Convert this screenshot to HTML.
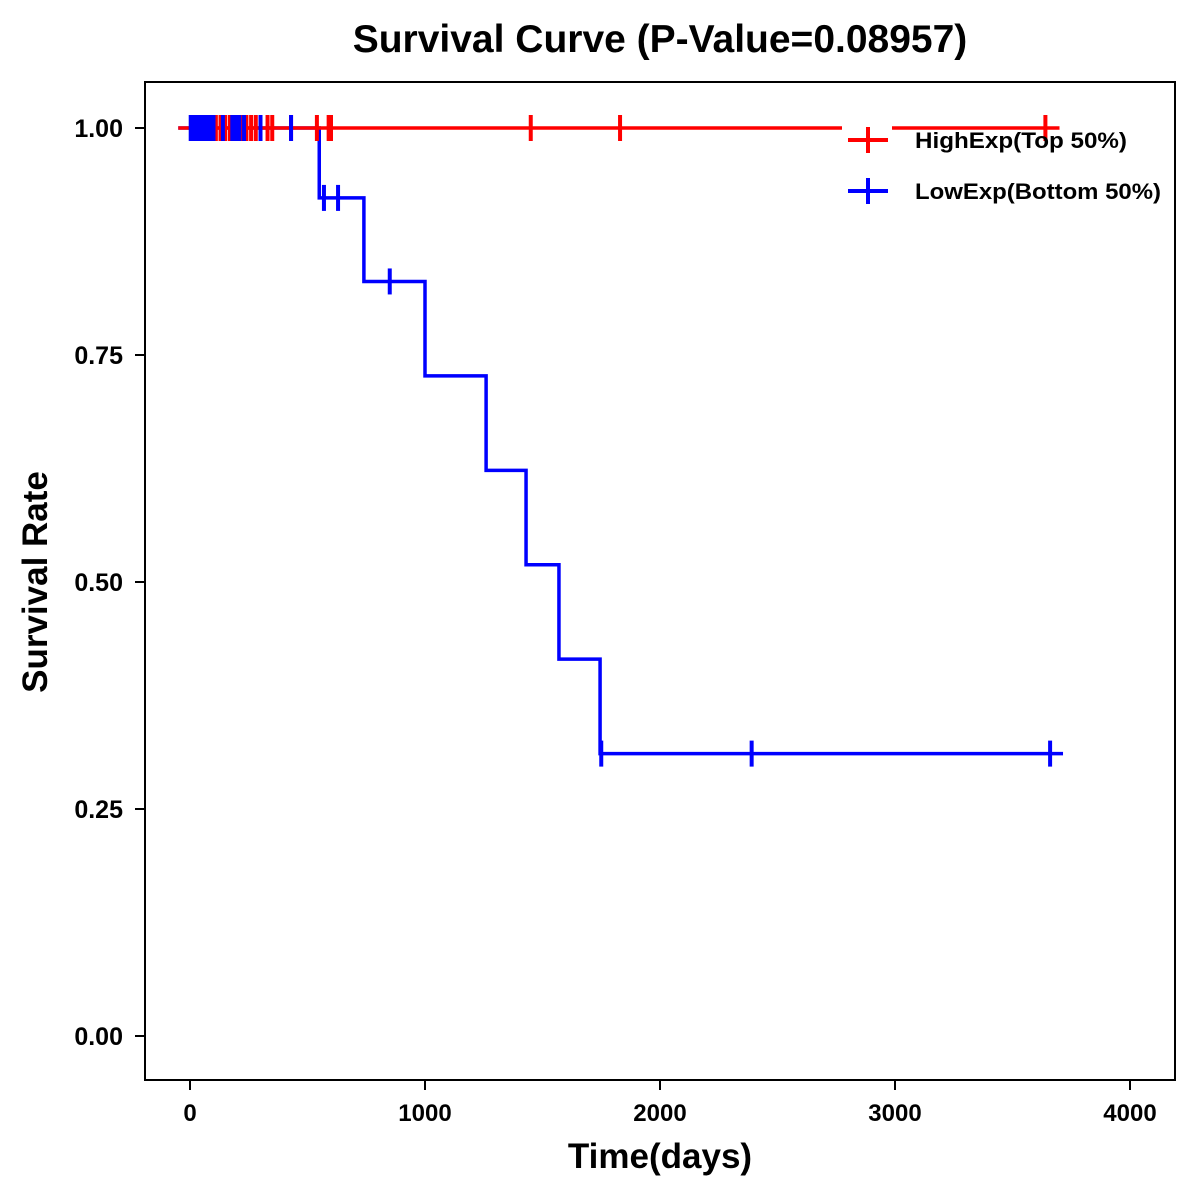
<!DOCTYPE html>
<html><head><meta charset="utf-8"><style>
body{margin:0;background:#fff}
svg{display:block;font-family:"Liberation Sans",Arial,sans-serif;font-weight:bold}
</style></head><body>
<svg id="chart" width="1200" height="1200">
<text x="660" y="52" text-anchor="middle" font-size="39">Survival Curve (P-Value=0.08957)</text>
<rect x="145" y="82" width="1030" height="998" fill="none" stroke="#000" stroke-width="2"/>
<g id="axes"></g>
<g id="series"></g>
<text x="660" y="1168" text-anchor="middle" font-size="35">Time(days)</text>
<text transform="translate(47,582) rotate(-90)" text-anchor="middle" font-size="35">Survival Rate</text>
<rect x="842" y="108" width="50" height="105" fill="#fff"/>
<g>
<line x1="848" y1="140" x2="888" y2="140" stroke="#f00" stroke-width="4"/>
<line x1="868" y1="127" x2="868" y2="153" stroke="#f00" stroke-width="4"/>
<text x="915" y="148" font-size="22" textLength="212" lengthAdjust="spacingAndGlyphs">HighExp(Top 50%)</text></g>
<g>
<line x1="848" y1="191" x2="888" y2="191" stroke="#00f" stroke-width="4"/>
<line x1="868" y1="178" x2="868" y2="204" stroke="#00f" stroke-width="4"/>
<text x="915" y="199" font-size="22" textLength="246" lengthAdjust="spacingAndGlyphs">LowExp(Bottom 50%)</text></g>
</svg>
<script>
const xTicks=[0,1000,2000,3000,4000];
const yTicks=[0,0.25,0.5,0.75,1];
const yTickLabels=["0.00","0.25","0.50","0.75","1.00"];
const highTimes=[-50,3700];
const highSurv=[1,1];
const highCensor=[5,15,25,35,50,60,75,95,110,130,150,170,200,220,240,260,280,300,330,350,430,540,590,600,1450,1830,3640];
const lowTimes=[-50,550,740,1000,1260,1430,1570,1745,3715];
const lowSurv=[1,0.923,0.831,0.727,0.623,0.519,0.415,0.311,0.311];
const lowCensor=[3,10,20,30,40,55,70,85,100,140,180,190,200,210,230,300,430,570,630,850,1750,2390,3660];
const lowCensorSurv=[1,1,1,1,1,1,1,1,1,1,1,1,1,1,1,1,1,0.923,0.923,0.831,0.311,0.311,0.311];
const X=t=>190+t*0.235, Y=s=>1036-s*908;
const NS="http://www.w3.org/2000/svg";
function mk(tag,attrs,parent){const e=document.createElementNS(NS,tag);for(const k in attrs)e.setAttribute(k,attrs[k]);parent.appendChild(e);return e;}
const ax=document.getElementById('axes'), se=document.getElementById('series');
xTicks.forEach(t=>{
 const l=mk('line',{x1:X(t),x2:X(t),y1:1080,y2:1090,stroke:'#000','stroke-width':2},ax);
 
 
 const tx=mk('text',{x:X(t),y:1121,'text-anchor':'middle','font-size':24},ax);tx.textContent=t;
 
 
});
yTicks.forEach((v,i)=>{
 const l=mk('line',{x1:135,x2:145,y1:Y(v),y2:Y(v),stroke:'#000','stroke-width':2},ax);
 
 
 const tx=mk('text',{x:123,y:Y(v)+9,'text-anchor':'end','font-size':25},ax);tx.textContent=yTickLabels[i];
 
 
});
function step(times,surv,color,name){
 let d='M'+X(times[0])+','+Y(surv[0]);
 for(let i=1;i<times.length;i++){d+=' H'+X(times[i])+' V'+Y(surv[i]);}
 const p=mk('path',{d:d,fill:'none',stroke:color,'stroke-width':3.5},se);
 
 
}
function censor(ts,ss,color,name){
 ts.forEach((t,i)=>{
  const c=mk('line',{x1:X(t),x2:X(t),y1:Y(ss[i])-13,y2:Y(ss[i])+13,stroke:color,'stroke-width':4},se);
  
  
 });
}
step(lowTimes,lowSurv,'#00f','low-exp-curve');
step(highTimes,highSurv,'#f00','high-exp-curve');
censor(highCensor,highCensor.map(()=>1),'#f00','high-censor-mark');
censor(lowCensor,lowCensorSurv,'#00f','low-censor-mark');
</script>
</body></html>
